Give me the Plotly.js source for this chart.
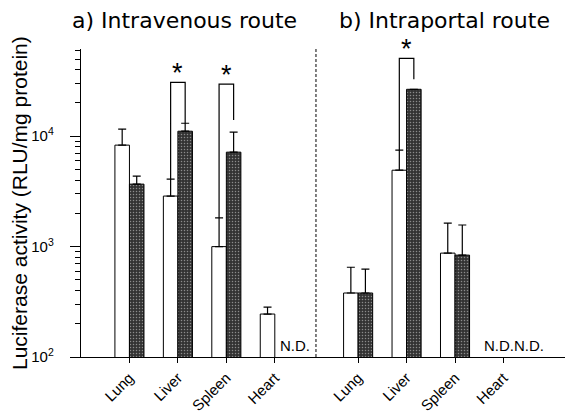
<!DOCTYPE html>
<html>
<head>
<meta charset="utf-8">
<script src="https://cdn.plot.ly/plotly-3.0.1.min.js"></script>
<style>html,body{margin:0;padding:0;background:#fff;}#chart{width:568px;height:414px;}</style>
</head>
<body>
<div id="chart"></div>
<script>
// ---- data ----
const categories = ['Lung', 'Liver', 'Spleen', 'Heart'];
// a) Intravenous route
const ivWhite    = [8300, 2870, 1000, 245];
const ivWhiteErr = [3300, 1210, 820, 38];
const ivDark     = [3680, 11100, 7170, null];
const ivDarkErr  = [670, 2000, 3730, 0];
// b) Intraportal route
const ipWhite    = [380, 4920, 873, null];
const ipWhiteErr = [270, 2550, 757, 0];
const ipDark     = [380, 26600, 837, null];
const ipDarkErr  = [245, 0, 733, 0];
// significance brackets: category index, bracket top, right-leg end
const ivSigCats  = [1, 2];
const ivSigTop   = [30800, 29600];
const ivSigRight = [13100, 14000];
const ipSigCats  = [1];
const ipSigTop   = [50800];
const ipSigRight = [32800];
// not detected labels
const ivNDCats = [3];
const ipNDCats = [3];
const ndText = 'N.D.';
const yTickVals = [100, 1000, 10000];
const yTickText = ['10<sup>2</sup>', '10<sup>3</sup>', '10<sup>4</sup>'];
const yTitle = 'Luciferase activity (RLU/mg protein)';

// ---- build ----
const idx = categories.map((c, i) => i);
const darkPattern = {shape: '.', fgcolor: '#8c8c8c', bgcolor: '#333333', size: 3, solidity: 0.2};
function errs(arr) { return {type: 'data', symmetric: false, array: arr, arrayminus: arr.map(() => 0), color: '#000', thickness: 1.2, width: 4}; }
function barTrace(vals, err, xa, dark) {
  return {
    type: 'bar', x: idx, y: vals, xaxis: xa, yaxis: 'y',
    marker: dark ? {color: '#333333', pattern: darkPattern, line: {color: '#000', width: 1}}
                 : {color: '#ffffff', line: {color: '#000', width: 1}},
    error_y: errs(err), showlegend: false, hoverinfo: 'skip'
  };
}
const traces = [
  barTrace(ivWhite, ivWhiteErr, 'x', false),
  barTrace(ivDark, ivDarkErr, 'x', true),
  barTrace(ipWhite, ipWhiteErr, 'x2', false),
  barTrace(ipDark, ipDarkErr, 'x2', true)
];
const annotations = [];
function addBrackets(cats, tops, rights, white, whiteErr, xa) {
  cats.forEach((c, k) => {
    const leftEnd = white[c] + whiteErr[c];
    traces.push({
      type: 'scatter', mode: 'lines', xaxis: xa, yaxis: 'y',
      x: [c - 0.15, c - 0.15, c + 0.15, c + 0.15],
      y: [leftEnd, tops[k], tops[k], rights[k]],
      line: {color: '#000', width: 1.2}, showlegend: false, hoverinfo: 'skip', cliponaxis: false
    });
    annotations.push({xref: xa, yref: 'y', x: c, y: Math.log10(tops[k]), text: '*', showarrow: false,
      yanchor: 'bottom', yshift: -8, font: {family: 'Liberation Sans, Arial', size: 27, color: '#000'}});
  });
}
addBrackets(ivSigCats, ivSigTop, ivSigRight, ivWhite, ivWhiteErr, 'x');
addBrackets(ipSigCats, ipSigTop, ipSigRight, ipWhite, ipWhiteErr, 'x2');
ivNDCats.forEach(c => annotations.push({xref: 'x', yref: 'y', x: c + 0.06, y: 2, text: ndText, showarrow: false,
  xanchor: 'left', yanchor: 'bottom', yshift: 1, font: {family: 'Liberation Sans, Arial', size: 15, color: '#000'}}));
ipNDCats.forEach(c => annotations.push({xref: 'x2', yref: 'y', x: c - 0.44, y: 2, text: ndText + ndText, showarrow: false,
  xanchor: 'left', yanchor: 'bottom', yshift: 1, font: {family: 'Liberation Sans, Arial', size: 15, color: '#000'}}));
annotations.push({xref: 'paper', yref: 'paper', x: 0.214, y: 1, yshift: 14, text: 'a) Intravenous route', showarrow: false,
  xanchor: 'center', yanchor: 'bottom', font: {family: 'DejaVu Sans', size: 22, color: '#000'}});
annotations.push({xref: 'paper', yref: 'paper', x: 0.75, y: 1, yshift: 14, text: 'b) Intraportal route', showarrow: false,
  xanchor: 'center', yanchor: 'bottom', font: {family: 'DejaVu Sans', size: 22, color: '#000'}});
annotations.push({xref: 'paper', yref: 'paper', x: 0, xshift: -62, y: 0.5, text: yTitle, textangle: -90, showarrow: false,
  xanchor: 'center', yanchor: 'middle', font: {family: 'Liberation Sans, Arial', size: 21, color: '#000'}});

const minorVals = [];
for (let d = 100; d < 100000; d *= 10) for (let m = 2; m <= 9; m++) minorVals.push(d * m);

const xCommon = {
  tickmode: 'array', tickvals: idx, ticktext: categories, tickangle: -45,
  ticks: 'outside', ticklen: 5, tickcolor: '#000', showline: true, linecolor: '#000', linewidth: 1.2,
  showgrid: false, zeroline: false, anchor: 'y', fixedrange: true,
  tickfont: {family: 'Liberation Sans, Arial', size: 15, color: '#000'}
};
const layout = {
  width: 568, height: 414,
  margin: {l: 81, r: 3, t: 49, b: 57},
  paper_bgcolor: '#fff', plot_bgcolor: '#fff',
  barmode: 'group', bargap: 0.4, bargroupgap: 0,
  xaxis: Object.assign({}, xCommon, {domain: [0, 0.4855], range: [-1, 3.85]}),
  xaxis2: Object.assign({}, xCommon, {domain: [0.4855, 1], range: [-0.87, 4.27]}),
  yaxis: {
    type: 'log', range: [2, 4.79], tickmode: 'array', tickvals: yTickVals, ticktext: yTickText,
    ticks: 'outside', ticklen: 10, tickcolor: '#000', showline: true, linecolor: '#000', linewidth: 1.2,
    showgrid: false, zeroline: false, ticklabelstandoff: 13,
    minor: {tickmode: 'array', tickvals: minorVals, ticks: 'outside', ticklen: 5, tickcolor: '#000', showgrid: false},
    tickfont: {family: 'Liberation Sans, Arial', size: 15, color: '#000'}
  },
  shapes: [{type: 'line', xref: 'paper', yref: 'paper', x0: 0.4855, x1: 0.4855, y0: 0, y1: 1,
    line: {color: '#000', width: 1, dash: '3px,2px'}}],
  annotations: annotations
};
Plotly.newPlot('chart', traces, layout, {staticPlot: true, displayModeBar: false});
</script>
</body>
</html>
